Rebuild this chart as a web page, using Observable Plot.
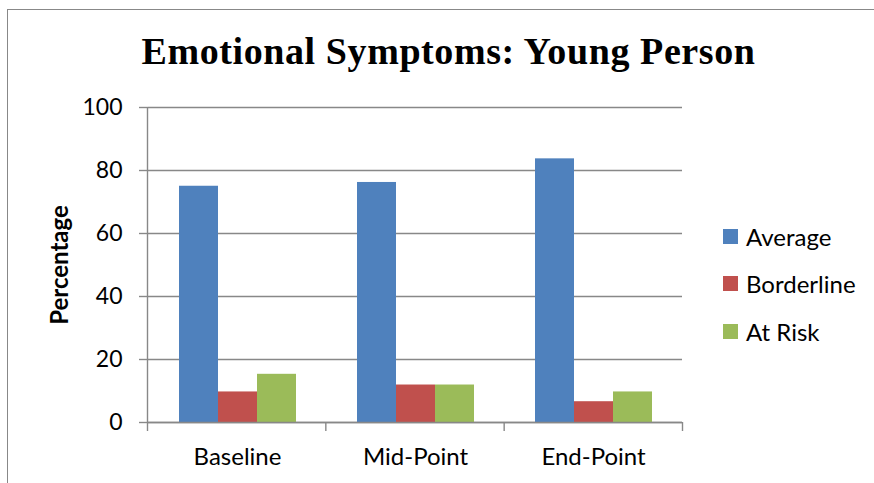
<!DOCTYPE html>
<html>
<head>
<meta charset="utf-8">
<script src="https://cdn.jsdelivr.net/npm/d3@7"></script>
<script src="https://cdn.jsdelivr.net/npm/@observablehq/plot@0.6"></script>
<style>
  html, body { margin: 0; padding: 0; background: #fff; }
  #wrap { position: relative; width: 874px; height: 483px; overflow: hidden; background: #fff; }
  #border { position: absolute; left: 7px; top: 9px; width: 1000px; height: 1000px; border: 1.5px solid #888; box-sizing: border-box; }
  #title { position: absolute; top: 33px; left: 0; width: 897px; text-align: center; font: bold 38px "Liberation Serif", serif; line-height: 36px; color: #000; white-space: nowrap; }
  #ylabel { position: absolute; left: 58px; top: 265px; transform: translate(-50%, -50%) rotate(-90deg); font: bold 24px Lato, sans-serif; color: #000; white-space: nowrap; }
  .lg { position: absolute; left: 723px; height: 24px; display: flex; align-items: center; font: 24px Lato, sans-serif; color: #000; white-space: nowrap; }
  .lg .sw { width: 15px; height: 15px; margin-right: 8px; }
</style>
</head>
<body>
<div id="wrap">
  <div id="border"></div>
  <div id="title">Emotional Symptoms: Young Person</div>
  <div id="ylabel">Percentage</div>
</div>
<script>
const categories = ["Baseline", "Mid-Point", "End-Point"];
const series = ["Average", "Borderline", "At Risk"];
const average = [75.0, 76.2, 83.7];
const borderline = [9.7, 11.9, 6.6];
const atRisk = [15.3, 11.9, 9.7];
const yTicks = [0, 20, 40, 60, 80, 100];
const colors = ["#4F81BD", "#C0504D", "#9BBB59"];

const values = [average, borderline, atRisk];
const data = [];
categories.forEach((c, i) => series.forEach((s, j) => data.push({cat: c, series: s, value: values[j][i]})));

const W = 874, H = 483;
const M = {top: 107, bottom: 61, left: 147, right: 192};
const grey = "#888";
const font = "Lato, sans-serif";

const main = Plot.plot({
  width: W, height: H,
  marginTop: M.top, marginBottom: M.bottom, marginLeft: M.left, marginRight: M.right,
  style: {fontFamily: font, background: "transparent", color: "#000"},
  fx: {domain: categories, padding: 0, label: null},
  x: {domain: series, paddingInner: 0, paddingOuter: 0.75, axis: null},
  y: {domain: [0, 100], label: null},
  color: {domain: series, range: colors},
  marks: [
    Plot.gridY(yTicks, {stroke: grey, strokeOpacity: 1, strokeWidth: 1.4}),
    Plot.axisY(yTicks, {tickSize: 9, tickPadding: 17, stroke: grey, strokeWidth: 1.4, fill: "#000", fontSize: 23, label: null}),
    Plot.barY(data, {fx: "cat", x: "series", y: "value", fill: "series"}),
    Plot.axisFx({anchor: "bottom", tickSize: 0, tickPadding: 25, fontSize: 24, fill: "#000", label: null})
  ]
});

const frame = Plot.plot({
  width: W, height: H,
  marginTop: M.top, marginBottom: M.bottom, marginLeft: M.left, marginRight: M.right,
  style: {fontFamily: font, background: "transparent"},
  x: {domain: [0, categories.length]},
  y: {domain: [0, 100]},
  marks: [
    Plot.ruleX([0], {y1: 0, y2: 100, stroke: grey, strokeWidth: 1.4}),
    Plot.ruleY([0], {stroke: grey, strokeWidth: 1.4}),
    Plot.axisX(d3.range(categories.length + 1), {tickSize: 9, tickFormat: () => "", stroke: grey, strokeWidth: 1.4, label: null}),
    Plot.axisY([], {label: null})
  ]
});

const wrap = document.getElementById("wrap");
for (const svg of [main, frame]) {
  svg.style.position = "absolute";
  svg.style.left = "0px";
  svg.style.top = "0px";
  wrap.appendChild(svg);
}

// legend
const centers = [236, 283.5, 331];
series.forEach((s, j) => {
  const row = document.createElement("div");
  row.className = "lg";
  row.style.top = (centers[j] - 12) + "px";
  const sw = document.createElement("span");
  sw.className = "sw";
  sw.style.background = colors[j];
  const tx = document.createElement("span");
  tx.textContent = s;
  row.appendChild(sw); row.appendChild(tx);
  wrap.appendChild(row);
});

// fit title width to reference span
const t = document.getElementById("title");
const span = document.createElement("span");
span.textContent = t.textContent; t.textContent = ""; t.appendChild(span);
const w = span.getBoundingClientRect().width;
const target = 614;
const n = span.textContent.length;
span.style.letterSpacing = ((target - w) / n) + "px";
</script>
</body>
</html>
